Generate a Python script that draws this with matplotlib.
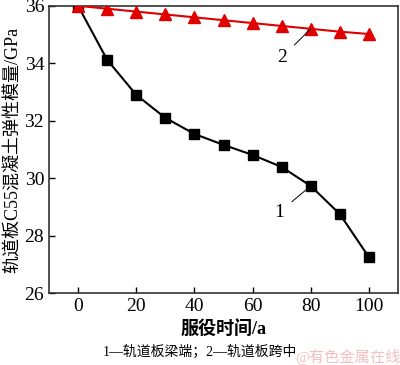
import matplotlib
matplotlib.use("Agg")
import matplotlib.pyplot as plt

plt.rcParams['font.family'] = ['Liberation Serif', 'Noto Sans CJK SC']

# service time (years)
years = [0, 10, 20, 30, 40, 50, 60, 70, 80, 90, 100]
# 1 - beam end of track slab
modulus_end = [36.0, 34.12, 32.90, 32.10, 31.54, 31.16, 30.81, 30.39, 29.73, 28.75, 27.25]
# 2 - mid-span of track slab
modulus_mid = [36.0, 35.9, 35.8, 35.7, 35.6, 35.5, 35.4, 35.3, 35.2, 35.1, 35.02]

x_ticks = [0, 20, 40, 60, 80, 100]
y_ticks = [26, 28, 30, 32, 34, 36]

fig = plt.figure(figsize=(4.0, 3.65), dpi=100)
ax = fig.add_axes([0.1225, 0.197, 0.8725, 0.787])

ax.plot(years, modulus_end, color='black', marker='s', markersize=6.5, linewidth=1.5, zorder=3)
ax.plot(years, modulus_mid, color='#e00000', marker='^', markersize=8, linewidth=1.5,
        markeredgecolor='#e00000', zorder=3)

# curve labels with leader lines
ax.annotate('1', xy=(80, 29.73), xytext=(69, 28.8), fontsize=14,
            ha='center', va='center',
            arrowprops=dict(arrowstyle='-', color='black', lw=0.7, shrinkA=5, shrinkB=0))
ax.annotate('2', xy=(80, 35.2), xytext=(70, 34.2), fontsize=14,
            ha='center', va='center',
            arrowprops=dict(arrowstyle='-', color='black', lw=0.7, shrinkA=5, shrinkB=0))

ax.set_xlim(-10, 110)
ax.set_ylim(26, 36)
ax.set_xticks(x_ticks)
ax.set_yticks(y_ticks)
ax.tick_params(direction='in', labelsize=14, length=4, width=1)

for s in ax.spines.values():
    s.set_linewidth(1.2)
    s.set_color('#333333')

ax.set_ylabel('轨道板C55混凝土弹性模量/GPa', fontsize=13, labelpad=2)
ax.set_xlabel('服役时间/a', fontsize=13, fontweight='bold', labelpad=4)

fig.text(0.5, 0.035, '1—轨道板梁端；2—轨道板跨中', ha='center', va='center', fontsize=10)
fig.text(0.87, 0.022, '@有色金属在线', ha='center', va='center', fontsize=11,
         color='#f0b0b0', alpha=0.8)

fig.savefig('out.png', dpi=100)
